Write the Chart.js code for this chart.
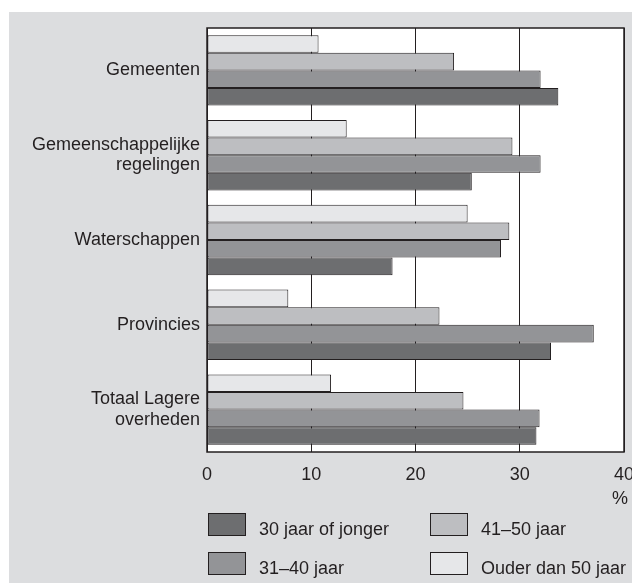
<!DOCTYPE html>
<html>
<head>
<meta charset="utf-8">
<script src="https://cdn.jsdelivr.net/npm/chart.js@4/dist/chart.umd.min.js"></script>
<style>
  html, body { margin: 0; padding: 0; background: #ffffff; }
  #wrap { position: relative; width: 632px; height: 583px; }
</style>
</head>
<body>
<div id="wrap"><canvas id="leeftijd"></canvas></div>
<script>
// categorieën en percentages per leeftijdsklasse
const categories = ['Gemeenten', ['Gemeenschappelijke', 'regelingen'], 'Waterschappen', 'Provincies', ['Totaal Lagere', 'overheden']];
const xTicks = [0, 10, 20, 30, 40];

const ouderDan50 = [10.7, 13.4, 25.0, 7.8, 11.9];
const jaar41tot50 = [23.7, 29.3, 29.0, 22.3, 24.6];
const jaar31tot40 = [32.0, 32.0, 28.2, 37.1, 31.9];
const jaar30ofJonger = [33.7, 25.4, 17.8, 33.0, 31.6];

const seriesLabels = ['Ouder dan 50 jaar', '41\u201350 jaar', '31\u201340 jaar', '30 jaar of jonger'];
const seriesColors = ['#e6e7e9', '#bdbec1', '#939497', '#6d6e70'];

const FONT = '"Liberation Sans", Arial, sans-serif';
const INK = '#231f20';

function ds(i, data) {
  return {
    label: seriesLabels[i],
    data: data,
    backgroundColor: seriesColors[i],
    borderColor: INK,
    borderWidth: 1,
    borderSkipped: false
  };
}

// grijs vlak, kader om het plotgebied, % en legenda
const decor = {
  id: 'decor',
  beforeDraw(chart) {
    const c = chart.ctx, a = chart.chartArea;
    c.save();
    c.fillStyle = '#dcdddf';
    c.fillRect(9, 12, chart.width - 9, chart.height - 12);
    c.fillStyle = '#ffffff';
    c.fillRect(a.left, a.top, a.right - a.left, a.bottom - a.top);
    c.restore();
  },
  afterDraw(chart) {
    const c = chart.ctx, a = chart.chartArea;
    c.save();
    c.strokeStyle = INK;
    c.lineWidth = 1.5;
    c.strokeRect(a.left, a.top, a.right - a.left, a.bottom - a.top);

    c.fillStyle = INK;
    c.font = '18px ' + FONT;
    c.textBaseline = 'middle';
    c.textAlign = 'right';
    c.fillText('%', 628, 499);

    // legenda in twee kolommen
    const items = [
      { s: 3, x: 208, y: 513 },
      { s: 1, x: 430, y: 513 },
      { s: 2, x: 208, y: 552 },
      { s: 0, x: 430, y: 552 }
    ];
    c.textAlign = 'left';
    items.forEach(it => {
      c.fillStyle = seriesColors[it.s];
      c.fillRect(it.x, it.y, 38, 23);
      c.strokeStyle = INK;
      c.lineWidth = 1;
      c.strokeRect(it.x + 0.5, it.y + 0.5, 37, 22);
      c.fillStyle = INK;
      c.fillText(seriesLabels[it.s], it.x + 51, it.y + 17);
    });
    c.restore();
  }
};

new Chart(document.getElementById('leeftijd'), {
  type: 'bar',
  data: {
    labels: categories,
    datasets: [
      ds(0, ouderDan50),
      ds(1, jaar41tot50),
      ds(2, jaar31tot40),
      ds(3, jaar30ofJonger)
    ]
  },
  options: {
    indexAxis: 'y',
    responsive: true,
    maintainAspectRatio: false,
    animation: false,
    layout: { padding: { top: 28, right: 8, left: 0, bottom: 0 } },
    datasets: { bar: { categoryPercentage: 0.83, barPercentage: 1 } },
    plugins: {
      legend: { display: false },
      tooltip: { enabled: false }
    },
    scales: {
      x: {
        min: 0,
        max: 40,
        afterBuildTicks(scale) { scale.ticks = xTicks.map(v => ({ value: v })); },
        afterFit(scale) {
          scale.height = 131;
          scale.paddingLeft = 0;
          scale.paddingRight = 0;
        },
        grid: { color: INK, lineWidth: 1, drawTicks: false },
        border: { display: false },
        ticks: { color: INK, padding: 12, font: { family: FONT, size: 18 } }
      },
      y: {
        afterFit(scale) { scale.width = 207; },
        grid: { display: false, drawTicks: false },
        border: { display: false },
        ticks: { color: INK, padding: 7, font: { family: FONT, size: 18, lineHeight: 1.12 } }
      }
    }
  },
  plugins: [decor]
});
</script>
</body>
</html>
